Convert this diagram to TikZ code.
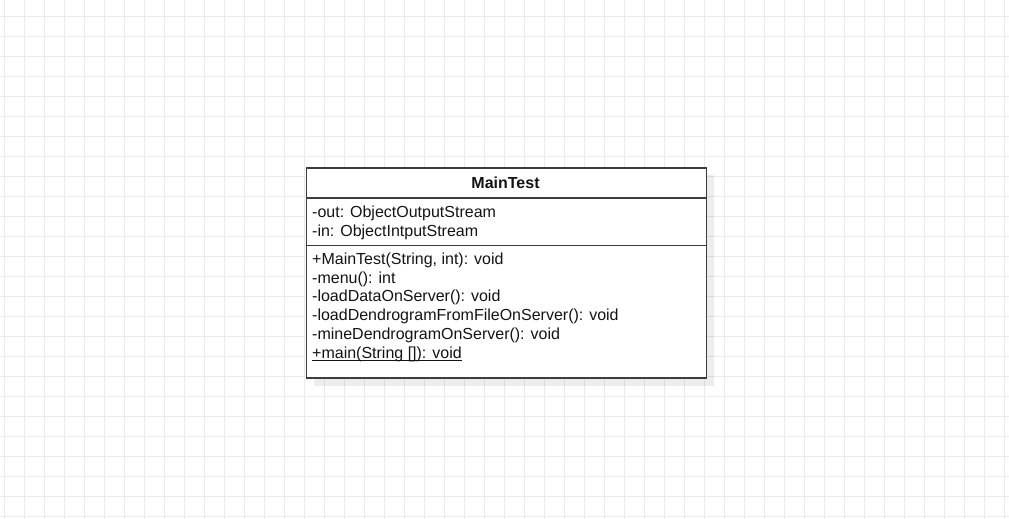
\documentclass[tikz,border=0pt]{standalone}
\usepackage{fontspec}
\setmainfont{Liberation Sans}
\definecolor{gridc}{RGB}{234,234,234}
\definecolor{boxc}{RGB}{60,60,60}
\definecolor{txtc}{RGB}{20,20,20}
\tikzset{
  gridline/.style={draw=gridc, line width=1.5pt},
  boxline/.style={draw=boxc, line width=1.6pt},
  membertxt/.style={anchor=base west, inner sep=0pt, text=txtc, font=\fontsize{16}{18.8}\selectfont},
  titletxt/.style={anchor=base, inner sep=0pt, text=txtc, font=\fontsize{16}{18.8}\selectfont\bfseries},
}
\begin{document}
\begin{tikzpicture}[x=1pt,y=-1pt]
\useasboundingbox (0,0) rectangle (1009,519);
\fill[white] (0,0) rectangle (1009,519);
\foreach \i in {0,...,50} \draw[gridline] (4.5+20*\i,0) -- (4.5+20*\i,519);
\foreach \j in {0,...,25} \draw[gridline] (0,16.5+20*\j) -- (1009,16.5+20*\j);
% shadow
\fill[black, opacity=0.07] (313.5,175) rectangle (713.5,385.5);
% class box
\node[boxline, fill=white, minimum width=400pt, minimum height=210pt, inner sep=0pt, anchor=north west] (cls) at (305.5,167) {};
\coordinate (s1l) at (305.5,198);
\coordinate (s1r) at (705.5,198);
\coordinate (s2l) at (305.5,245.5);
\coordinate (s2r) at (705.5,245.5);
\draw[boxline] (s1l) -- (s1r);
\draw[boxline] (s2l) -- (s2r);
% title
\node[titletxt] (title) at (505.5,188.3) {MainTest};
% attributes
\node[membertxt] (a1) at (312,217.5) {-out: ObjectOutputStream};
\node[membertxt] (a2) at (312,236.2) {-in: ObjectIntputStream};
% methods
\node[membertxt] (m1) at (312,264.3) {+MainTest(String, int): void};
\node[membertxt] (m2) at (312,283.0) {-menu(): int};
\node[membertxt] (m3) at (312,301.8) {-loadDataOnServer(): void};
\node[membertxt] (m4) at (312,320.5) {-loadDendrogramFromFileOnServer(): void};
\node[membertxt] (m5) at (312,339.3) {-mineDendrogramOnServer(): void};
\node[membertxt] (m6) at (312,358.0) {+main(String []): void};
\draw[txtc, line width=1.3pt] ([yshift=-2.8pt]m6.base west) -- ([yshift=-2.8pt]m6.base east);
\end{tikzpicture}
\end{document}
